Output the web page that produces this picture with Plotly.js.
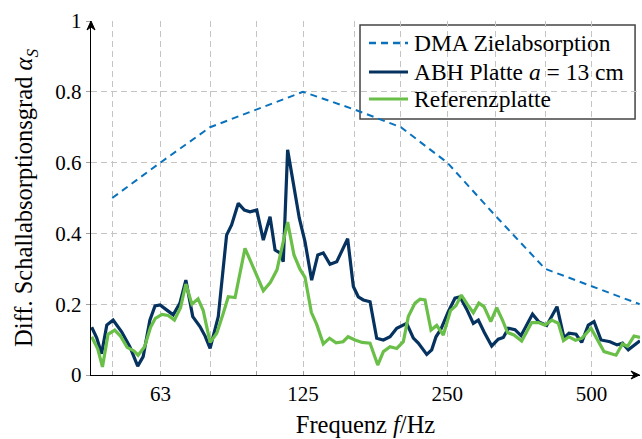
<!DOCTYPE html>
<html>
<head>
<meta charset="utf-8">
<script src="https://cdn.plot.ly/plotly-3.0.1.min.js"></script>
<style>html,body{margin:0;padding:0;background:#fff;}#chart{width:642px;height:439px;}</style>
</head>
<body>
<div id="chart"></div>
<script>
// Target (DMA) absorption, third-octave bands
const dmaFreq = [50, 63, 80, 100, 125, 160, 200, 250, 315, 400, 500, 630];
const dmaAlpha = [0.5, 0.6, 0.7, 0.75, 0.8, 0.75, 0.7, 0.6, 0.45, 0.3, 0.25, 0.2];

// ABH plate a = 13 cm
const abhFreq = [45.3,46.4,47.5,48.7,50.2,52.3,54.4,56.5,58.0,59.9,61.4,62.9,64.9,67.0,69.2,71.2,73.6,76.2,78.1,80.0,
  83.2,86.6,88.7,91.6,94.3,96.9,100.1,103.3,106.7,109.3,111.9,113.7,116.1,119.9,122.8,126.2,130.3,134.2,137.8,142.3,
  147.0,154.9,159.2,163.0,167.0,172.5,178.1,183.9,189.9,196.1,205.7,212.4,217.5,226.5,232.0,236.8,242.6,251.2,259.4,265.7,
  274.4,283.3,290.2,298.7,309.5,319.4,327.2,335.2,346.1,356.2,376.5,388.4,403.0,423.5,438.0,448.6,464.0,476.8,492.2,505.9,
  523.2,546.3,565.0,580.1,596.5,630.9];
const abhAlpha = [0.135,0.105,0.06,0.141,0.155,0.122,0.08,0.025,0.052,0.155,0.195,0.198,0.184,0.17,0.203,0.268,0.165,0.137,0.11,0.075,
  0.165,0.395,0.424,0.485,0.466,0.461,0.466,0.381,0.447,0.353,0.345,0.32,0.636,0.518,0.443,0.377,0.268,0.339,0.345,0.313,
  0.32,0.385,0.25,0.221,0.212,0.207,0.104,0.099,0.108,0.132,0.146,0.104,0.09,0.058,0.071,0.108,0.13,0.179,0.217,0.221,
  0.186,0.146,0.155,0.12,0.082,0.101,0.106,0.132,0.128,0.111,0.172,0.15,0.14,0.193,0.105,0.118,0.115,0.092,0.141,0.151,
  0.099,0.094,0.085,0.09,0.071,0.097];

// Reference plate
const refFreq = [45.3,46.6,47.7,49.0,50.6,52.0,53.7,55.5,56.6,58.4,60.1,61.5,63.5,65.4,67.4,69.4,71.2,73.3,75.5,77.4,
  80.0,82.6,85.2,87.3,90.2,94.6,103.3,106.9,110.3,116.1,119.7,123.2,126.2,130.1,133.5,137.8,142.0,146.5,151.5,155.2,
  160.5,166.0,172.5,179.0,183.9,189.9,196.1,202.4,207.3,214.1,219.3,224.6,231.2,237.6,245.3,253.9,260.7,267.4,274.9,283.3,
  290.9,298.2,308.1,317.0,325.9,333.9,344.4,357.4,375.0,387.1,399.8,412.9,426.2,436.9,448.6,462.8,477.5,498.7,530.8,562.3,
  580.1,594.2,613.0,630.9];
const refAlpha = [0.108,0.075,0.023,0.115,0.127,0.11,0.078,0.068,0.056,0.08,0.135,0.16,0.171,0.168,0.155,0.19,0.257,0.2,0.215,0.182,
  0.092,0.118,0.174,0.221,0.219,0.358,0.238,0.262,0.297,0.432,0.339,0.299,0.276,0.177,0.143,0.088,0.104,0.091,0.094,0.108,
  0.099,0.092,0.09,0.028,0.066,0.08,0.075,0.094,0.165,0.203,0.214,0.212,0.127,0.14,0.113,0.182,0.196,0.226,0.201,0.176,
  0.203,0.193,0.151,0.19,0.155,0.12,0.113,0.096,0.148,0.148,0.141,0.155,0.146,0.097,0.108,0.098,0.104,0.132,0.066,0.056,
  0.088,0.081,0.11,0.106];

const xTickVals = [63, 125, 250, 500];
const xTickText = ['63', '125', '250', '500'];
const xMinorVals = [50, 80, 100, 160, 200, 315, 400];
const yTickVals = [0, 0.2, 0.4, 0.6, 0.8, 1];
const yTickText = ['0', '0.2', '0.4', '0.6', '0.8', '1'];

const seriesNames = ['DMA Zielabsorption', 'ABH Platte <i>a</i> = 13 cm', 'Referenzplatte'];
const seriesColors = ['#0a72bd', '#06325f', '#6abf48'];
const seriesDash = ['7px,5px', 'solid', 'solid'];
const seriesWidth = [2, 3.2, 3.2];

const traces = [
  {x: dmaFreq, y: dmaAlpha, type: 'scatter', mode: 'lines', name: seriesNames[0],
   line: {color: seriesColors[0], width: seriesWidth[0], dash: seriesDash[0]}},
  {x: abhFreq, y: abhAlpha, type: 'scatter', mode: 'lines', name: seriesNames[1],
   line: {color: seriesColors[1], width: seriesWidth[1]}},
  {x: refFreq, y: refAlpha, type: 'scatter', mode: 'lines', name: seriesNames[2],
   line: {color: seriesColors[2], width: seriesWidth[2]}}
];

const serif = '"Liberation Serif", "Times New Roman", "DejaVu Serif", serif';

// Legend drawn as a box with samples (paper coordinates)
const legBox = {x0: 0.490, x1: 0.991, y0: 0.7232, y1: 0.9887};
const legRows = [0.9379, 0.8559, 0.7797];
const legSampleX = [0.5064, 0.5774];
const legTextX = 0.5855;

const shapes = [
  {type: 'rect', xref: 'paper', yref: 'paper', x0: legBox.x0, x1: legBox.x1, y0: legBox.y0, y1: legBox.y1,
   fillcolor: '#ffffff', line: {color: '#444', width: 1.5}, layer: 'between'},
  // axis arrowheads
  {type: 'path', xref: 'paper', yref: 'paper', layer: 'above',
   path: 'M -0.0073 0.9746 L 0 1.0 L 0.0073 0.9746 L 0 0.983 Z', fillcolor: '#000', line: {color: '#000', width: 1}},
  {type: 'path', xref: 'paper', yref: 'paper', layer: 'above',
   path: 'M 0.9836 -0.0113 L 0.999 0 L 0.9836 0.0113 L 0.9891 0 Z', fillcolor: '#000', line: {color: '#000', width: 1}}
];
const annotations = [];
legRows.forEach(function (ry, i) {
  shapes.push({type: 'line', xref: 'paper', yref: 'paper', x0: legSampleX[0], x1: legSampleX[1], y0: ry, y1: ry,
    line: {color: seriesColors[i], width: seriesWidth[i] + (i === 0 ? 0.3 : 0), dash: seriesDash[i]}, layer: 'above'});
  annotations.push({xref: 'paper', yref: 'paper', x: legTextX, y: ry, xanchor: 'left', yanchor: 'middle',
    text: seriesNames[i], showarrow: false, font: {family: serif, size: 23.5, color: '#000'}});
});

const gridStyle = {gridcolor: '#c4c4c4', gridwidth: 1, griddash: '6px,4px'};

const layout = {
  width: 642, height: 439,
  margin: {l: 91, r: 2, t: 21, b: 64, pad: 0},
  paper_bgcolor: '#ffffff', plot_bgcolor: '#ffffff',
  font: {family: serif, size: 21, color: '#000'},
  showlegend: false,
  xaxis: {
    type: 'log', range: [1.6546, 2.8],
    tickmode: 'array', tickvals: xTickVals, ticktext: xTickText,
    showgrid: true, gridcolor: gridStyle.gridcolor, gridwidth: 1, griddash: gridStyle.griddash,
    minor: {tickmode: 'array', tickvals: xMinorVals, showgrid: true, gridcolor: gridStyle.gridcolor,
            gridwidth: 1, griddash: gridStyle.griddash, ticks: 'inside', ticklen: 4, tickcolor: '#a0a0a0', tickwidth: 1},
    showline: true, linecolor: '#000', linewidth: 1.2,
    ticks: 'inside', ticklen: 4, tickcolor: '#a0a0a0', tickwidth: 1,
    zeroline: false, tickfont: {size: 21},
    title: {text: 'Frequenz <i>f</i>/Hz', font: {size: 24.5}, standoff: 10}
  },
  yaxis: {
    range: [0, 1], tickmode: 'array', tickvals: yTickVals, ticktext: yTickText,
    showgrid: true, gridcolor: gridStyle.gridcolor, gridwidth: 1, griddash: gridStyle.griddash,
    showline: true, linecolor: '#000', linewidth: 1.2,
    ticks: 'outside', ticklen: 4, tickcolor: '#a0a0a0', tickwidth: 1,
    zeroline: false, tickfont: {size: 21},
    title: {text: 'Diff. Schallabsorptionsgrad <i>α<sub>S</sub></i>', font: {size: 24.5}, standoff: 15}
  },
  shapes: shapes,
  annotations: annotations
};

Plotly.newPlot('chart', traces, layout, {displayModeBar: false, staticPlot: true});
</script>
</body>
</html>
